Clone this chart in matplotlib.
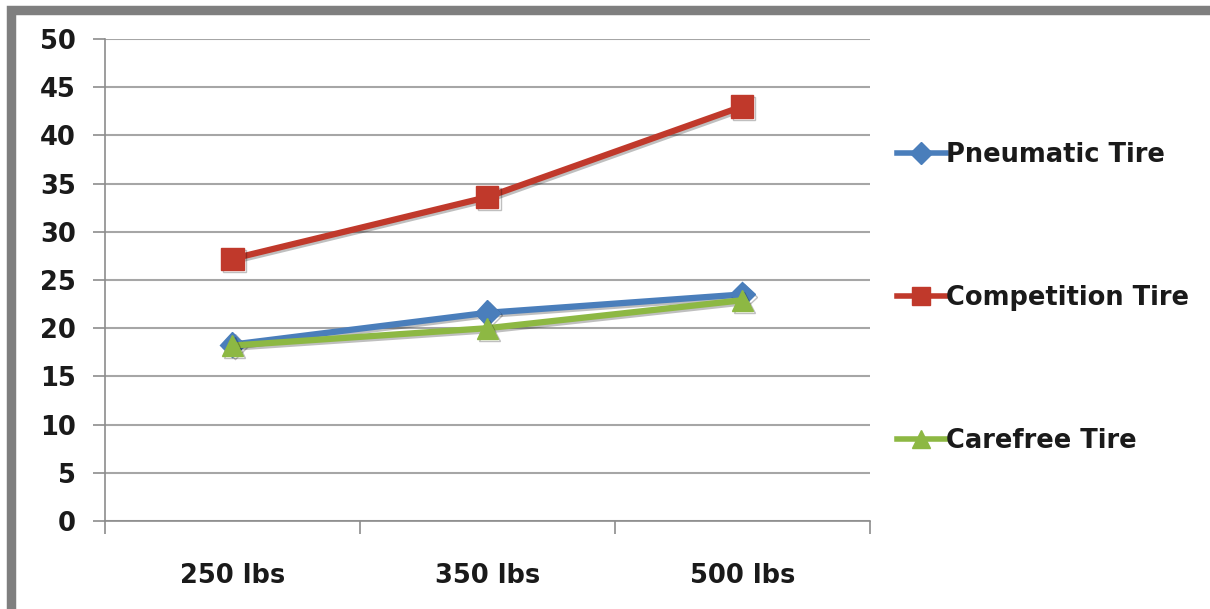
import matplotlib.pyplot as plt
import matplotlib.patheffects as pe
from matplotlib.patches import Rectangle
from matplotlib.lines import Line2D

categories = ["250 lbs", "350 lbs", "500 lbs"]
pneumatic = [18.3, 21.6, 23.5]
competition = [27.2, 33.6, 43.0]
carefree = [18.2, 20.0, 22.9]
y_ticks = [0, 5, 10, 15, 20, 25, 30, 35, 40, 45, 50]

plt.rcParams['font.family'] = ['DejaVu Sans']
plt.rcParams['font.weight'] = 'bold'

fig = plt.figure(figsize=(12.1, 6.09), dpi=100)
ax = fig.add_axes([0.0868, 0.1445, 0.632, 0.7915])

shadow = [pe.SimpleLineShadow(offset=(1.5, -1.5), alpha=0.25), pe.Normal()]

series = [
    ("Pneumatic Tire", pneumatic, "#4A7EBB", "D", 13),
    ("Competition Tire", competition, "#C0392B", "s", 16),
    ("Carefree Tire", carefree, "#8DB843", "^", 15),
]
x = [0.5, 1.5, 2.5]
handles = []
for name, vals, col, mk, ms in series:
    ax.plot(x, vals, color=col, lw=4.5, marker=mk, markersize=ms,
            markeredgecolor=col, markerfacecolor=col,
            path_effects=shadow, zorder=3)
    handles.append(Line2D([], [], color=col, lw=4, marker=mk, markersize=ms * 0.85,
                          markerfacecolor=col, markeredgecolor=col))

ax.set_xlim(0, 3)
ax.set_ylim(0, 50)
ax.set_yticks(y_ticks)
ax.set_yticklabels([str(t) for t in y_ticks], fontsize=18.5, fontweight='bold', color='#1A1A1A')
ax.set_xticks([0, 1, 2, 3])
ax.set_xticklabels([])
ax.set_xticks(x, minor=True)
ax.set_xticklabels(categories, minor=True, fontsize=18.5, fontweight='bold', color='#1A1A1A')
ax.tick_params(axis='x', which='minor', length=0, pad=30)
ax.tick_params(axis='x', which='major', length=9, width=1.2, color='#8C8C8C', direction='out')
ax.tick_params(axis='y', length=9, width=1.2, color='#8C8C8C', direction='out', pad=12)

ax.grid(axis='y', color='#A6A6A6', lw=1.5)
ax.set_axisbelow(True)
for s in ['top', 'right']:
    ax.spines[s].set_visible(False)
for s in ['left', 'bottom']:
    ax.spines[s].set_color('#8C8C8C')
    ax.spines[s].set_linewidth(1.2)

leg = fig.legend(handles, [s[0] for s in series], loc='upper left',
                 bbox_to_anchor=(0.722, 0.805), frameon=False,
                 prop={'size': 18.5, 'weight': 'bold'}, handlelength=1.9,
                 handletextpad=0.0, labelspacing=4.55)
for t in leg.get_texts():
    t.set_color('#1A1A1A')

# outer frame (right and bottom edges run off the picture)
fig.patches.append(Rectangle((0.0091, -0.0033), 1.2, 0.9861, transform=fig.transFigure,
                             fill=False, edgecolor='#7F7F7F', lw=6.8, zorder=10))

fig.savefig("out.png", dpi=100)
